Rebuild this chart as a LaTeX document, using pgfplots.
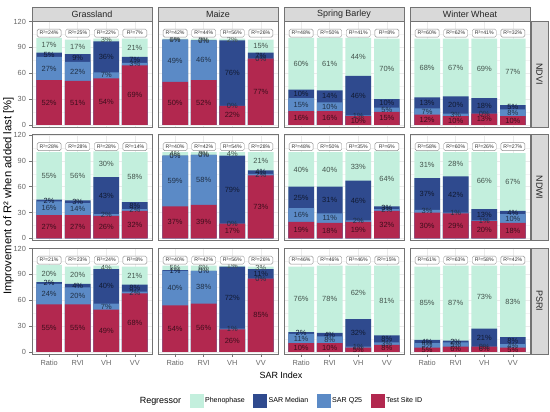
\documentclass[border=0pt]{standalone}
\usepackage{fontspec}
\setmainfont{Liberation Sans}
\usepackage{pgfplots}
\usepackage{pgfplotstable}
\pgfplotsset{compat=1.18}
\definecolor{cPhe}{HTML}{C3EFDD}
\definecolor{cMed}{HTML}{2F4A8E}
\definecolor{cQ}{HTML}{5B8AC6}
\definecolor{cTest}{HTML}{B2284F}
\definecolor{bord}{HTML}{737373}
\definecolor{stripg}{HTML}{D9D9D9}
\definecolor{gridg}{HTML}{EBEBEB}

% columns: x, t = Test Site ID, q = SAR Q25, m = SAR Median, p = Phenophase, r = R^2 (%)
\pgfplotstableread{
x t q m p r
0 52 27 5 17 24
1 51 22 9 17 25
2 54 7 36 3 22
3 69 3 7 21 7
}\tGN
\pgfplotstableread{
x t q m p r
0 50 49 0 1 42
1 52 46 0 2 44
2 22 0 76 2 56
3 77 0 7 15 26
}\tMN
\pgfplotstableread{
x t q m p r
0 16 15 10 60 48
1 16 10 14 61 50
2 10 1 46 44 41
3 15 5 10 70 8
}\tSN
\pgfplotstableread{
x t q m p r
0 12 7 13 68 60
1 10 3 20 67 62
2 13 0 18 69 41
3 10 8 5 77 32
}\tWN
\pgfplotstableread{
x t q m p r
0 27 16 2 55 28
1 27 14 3 56 28
2 26 2 43 30 28
3 32 2 8 58 14
}\tGW
\pgfplotstableread{
x t q m p r
0 37 59 0 4 40
1 39 58 0 3 42
2 17 0 79 4 54
3 73 2 4 21 28
}\tMW
\pgfplotstableread{
x t q m p r
0 19 16 25 40 48
1 18 11 31 40 50
2 19 2 46 33 35
3 32 2 3 64 6
}\tSW
\pgfplotstableread{
x t q m p r
0 30 3 37 31 58
1 29 1 42 28 60
2 20 1 13 66 26
3 18 10 4 67 27
}\tWW
\pgfplotstableread{
x t q m p r
0 55 24 2 20 21
1 55 20 4 20 23
2 49 7 40 4 24
3 68 2 8 21 8
}\tGP
\pgfplotstableread{
x t q m p r
0 54 40 1 5 40
1 56 38 0 6 42
2 26 1 72 1 56
3 85 0 11 3 26
}\tMP
\pgfplotstableread{
x t q m p r
0 10 11 2 76 46
1 10 8 4 78 46
2 5 1 32 62 46
3 8 3 8 81 15
}\tSP
\pgfplotstableread{
x t q m p r
0 5 5 4 85 61
1 6 5 2 87 63
2 6 0 21 73 58
3 5 4 8 83 42
}\tWP

\pgfplotsset{
  panel/.style={
    scale only axis, width=120bp, height=106bp, anchor=south west,
    xmin=-0.6, xmax=3.6, ymin=-2.5, ymax=120.6,
    xtick={0,1,2,3}, xticklabels={Ratio,RVI,VH,VV},
    ytick={0,30,60,90,120}, minor ytick={15,45,75,105},
    ymajorgrids, yminorgrids, xmajorgrids,
    major grid style={gridg, line width=0.55bp},
    minor grid style={gridg!60, line width=0.3bp},
    axis line style={bord, line width=0.55bp},
    tick align=outside, tick pos=left,
    major tick length=2.6bp, minor tick length=0bp,
    tick style={bord, line width=0.5bp},
    ticklabel style={font=\fontsize{7.4}{8}\selectfont, text=black!60},
    /pgf/number format/assume math mode=true,
    clip=false,
  },
  noy/.style={yticklabels={}, ytick style={draw=none}},
  nox/.style={xticklabels={}, xtick style={draw=none}},
  barp/.style={ybar, bar width=0.9, bar shift=0pt, fill=#1, draw=none},
  seglab/.style={draw=none, mark=none, point meta=explicit symbolic,
    nodes near coords={\pgfplotspointmeta\%},
    nodes near coords style={anchor=center, font=\fontsize{7.5}{8}\selectfont, text=#1!35!black, inner sep=0pt}},
  r2lab/.style={draw=none, mark=none, point meta=explicit symbolic,
    nodes near coords={R²=\pgfplotspointmeta\%},
    nodes near coords style={anchor=center, font=\fontsize{5.2}{6}\selectfont, text=black!80,
      draw=bord!80, fill=white, rounded corners=1.5bp, minimum width=24bp, minimum height=8bp,
      inner sep=0.5bp, line width=0.4bp}},
}

\newcommand{\drawpanel}[1]{%
  \addplot[barp=cPhe] table[x=x, y expr=\thisrow{t}+\thisrow{q}+\thisrow{m}+\thisrow{p}] {#1};
  \addplot[barp=cMed] table[x=x, y expr=\thisrow{t}+\thisrow{q}+\thisrow{m}] {#1};
  \addplot[barp=cQ] table[x=x, y expr=\thisrow{t}+\thisrow{q}] {#1};
  \addplot[barp=cTest] table[x=x, y=t] {#1};
  \addplot[seglab=cTest] table[x=x, y expr=\thisrow{t}/2, meta=t] {#1};
  \addplot[seglab=cQ] table[x=x, y expr=\thisrow{t}+\thisrow{q}/2, meta=q] {#1};
  \addplot[seglab=cMed] table[x=x, y expr=\thisrow{t}+\thisrow{q}+\thisrow{m}/2, meta=m] {#1};
  \addplot[seglab=cPhe] table[x=x, y expr=\thisrow{t}+\thisrow{q}+\thisrow{m}+\thisrow{p}/2, meta=p] {#1};
  \addplot[r2lab] table[x=x, y expr=106.5, meta=r] {#1};
}

\begin{document}
\begin{tikzpicture}
\path[use as bounding box] (0,0) rectangle (550bp,412bp);
% row 1: NDVI
\begin{axis}[panel, nox, at={(32bp,285bp)}, name=p11]\drawpanel{\tGN}\end{axis}
\begin{axis}[panel, nox, noy, at={(158bp,285bp)}, name=p12]\drawpanel{\tMN}\end{axis}
\begin{axis}[panel, nox, noy, at={(284bp,285bp)}, name=p13]\drawpanel{\tSN}\end{axis}
\begin{axis}[panel, nox, noy, at={(410bp,285bp)}, name=p14]\drawpanel{\tWN}\end{axis}
% row 2: NDWI
\begin{axis}[panel, nox, at={(32bp,171.5bp)}, name=p21]\drawpanel{\tGW}\end{axis}
\begin{axis}[panel, nox, noy, at={(158bp,171.5bp)}, name=p22]\drawpanel{\tMW}\end{axis}
\begin{axis}[panel, nox, noy, at={(284bp,171.5bp)}, name=p23]\drawpanel{\tSW}\end{axis}
\begin{axis}[panel, nox, noy, at={(410bp,171.5bp)}, name=p24]\drawpanel{\tWW}\end{axis}
% row 3: PSRI
\begin{axis}[panel, at={(32bp,58bp)}, name=p31,
  legend columns=5,
  legend style={at={(2.075,-0.443)}, anchor=center, draw=none, fill=none,
    font=\fontsize{7.1}{8}\selectfont, inner sep=0pt,
    /tikz/every odd column/.append style={column sep=0bp},
    /tikz/every even column/.append style={column sep=6.5bp}},
  legend cell align=left]
\addlegendimage{empty legend}\addlegendentry{\fontsize{9}{10}\selectfont Regressor}
\addlegendimage{legend image code/.code={\fill[cPhe] (0bp,-6.5bp) rectangle (13bp,6.5bp);}}\addlegendentry{Phenophase}
\addlegendimage{legend image code/.code={\fill[cMed] (0bp,-6.5bp) rectangle (13bp,6.5bp);}}\addlegendentry{SAR Median}
\addlegendimage{legend image code/.code={\fill[cQ] (0bp,-6.5bp) rectangle (13bp,6.5bp);}}\addlegendentry{SAR Q25}
\addlegendimage{legend image code/.code={\fill[cTest] (0bp,-6.5bp) rectangle (13bp,6.5bp);}}\addlegendentry{Test Site ID}
\drawpanel{\tGP}
\end{axis}
\begin{axis}[panel, noy, at={(158bp,58bp)}, name=p32]\drawpanel{\tMP}\end{axis}
\begin{axis}[panel, noy, at={(284bp,58bp)}, name=p33]\drawpanel{\tSP}\end{axis}
\begin{axis}[panel, noy, at={(410bp,58bp)}, name=p34]\drawpanel{\tWP}\end{axis}
% strips
\foreach \n/\lab in {p11/Grassland, p12/Maize, p13/Spring Barley, p14/Winter Wheat} {
  \draw[fill=stripg, draw=bord, line width=0.55bp] (\n.north west) rectangle ([yshift=13.5bp]\n.north east);
  \node[font=\fontsize{9}{10}\selectfont, text=black!85] at ([yshift=6.75bp]\n.north) {\lab};
}
\foreach \n/\lab in {p14/NDVI, p24/NDWI, p34/PSRI} {
  \draw[fill=stripg, draw=bord, line width=0.55bp] ([xshift=0.8bp]\n.south east) rectangle ([xshift=18bp]\n.north east);
  \node[rotate=-90, font=\fontsize{9}{10}\selectfont, text=black!85] at ([xshift=9.4bp]\n.east) {\lab};
}
\node[rotate=90, font=\fontsize{11.3}{13}\selectfont] at (8.5bp,216bp) {Improvement of R² when added last [\%]};
\node[font=\fontsize{9}{10}\selectfont] at (281bp,37bp) {SAR Index};
\end{tikzpicture}
\end{document}
